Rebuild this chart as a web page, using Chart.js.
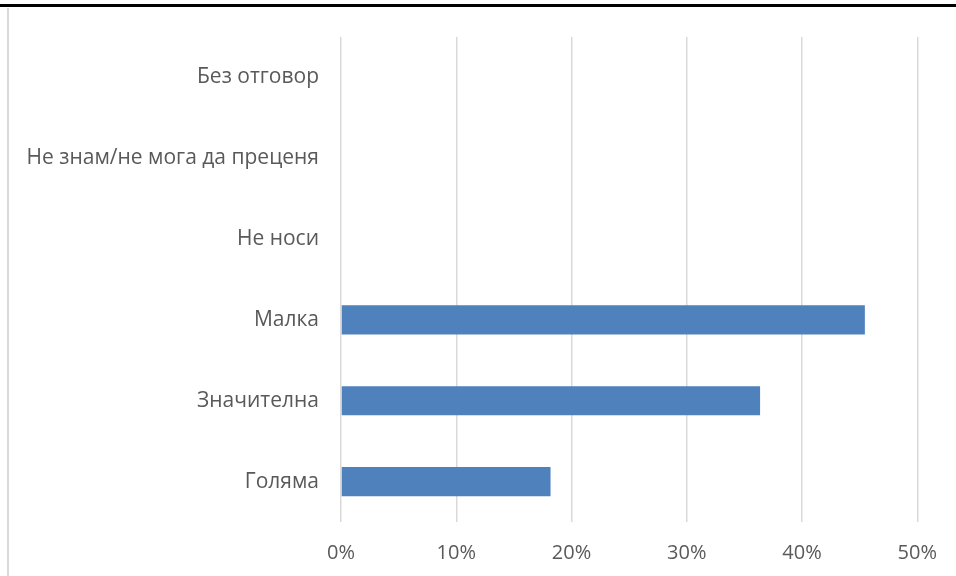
<!DOCTYPE html>
<html>
<head>
<meta charset="utf-8">
<script src="https://cdn.jsdelivr.net/npm/chart.js@4"></script>
<style>
  html, body { margin: 0; padding: 0; background: #fff; }
  canvas { display: block; }
</style>
</head>
<body>
<canvas id="canvas" width="956" height="576"></canvas>
<script>
const categories = [
  "Без отговор",
  "Не знам/не мога да преценя",
  "Не носи",
  "Малка",
  "Значителна",
  "Голяма",
];
const shares = [0, 0, 0, 45.45, 36.36, 18.18];
const xTicks = [0, 10, 20, 30, 40, 50];

// black rule across the top, thin grey edge on the left
const frame = {
  id: "frame",
  beforeDraw(chart) {
    const c = chart.ctx;
    c.save();
    c.fillStyle = "#000";
    c.fillRect(0, 4, chart.width, 3);
    c.fillStyle = "#d9d9d9";
    c.fillRect(7, 8, 2, chart.height - 8);
    c.restore();
  },
};

const ctx = document.getElementById("canvas").getContext("2d");
new Chart(ctx, {
  type: "bar",
  data: {
    labels: categories,
    datasets: [
      {
        data: shares,
        backgroundColor: "#4f81bd",
        barPercentage: 0.6,
        categoryPercentage: 0.6,
      },
    ],
  },
  options: {
    indexAxis: "y",
    responsive: false,
    animation: false,
    layout: { padding: { top: 37, right: 38, left: 0, bottom: 0 } },
    plugins: { legend: { display: false }, tooltip: { enabled: false } },
    scales: {
      x: {
        min: 0,
        max: 50,
        afterBuildTicks: (scale) => {
          scale.ticks = xTicks.map((v) => ({ value: v }));
        },
        afterFit: (scale) => {
          scale.height = 54;
        },
        grid: { color: "#d9d9d9", lineWidth: 1.5, drawTicks: false },
        border: { display: false },
        ticks: {
          padding: 19,
          color: "#595959",
          font: { family: "Open Sans", size: 20 },
          callback: (v) => v + "%",
        },
      },
      y: {
        afterFit: (scale) => {
          scale.width = 341;
        },
        grid: { display: false, drawTicks: false },
        border: { display: false },
        ticks: {
          padding: 22,
          color: "#595959",
          font: { family: "Open Sans", size: 21 },
        },
      },
    },
  },
  plugins: [frame],
});
</script>
</body>
</html>
